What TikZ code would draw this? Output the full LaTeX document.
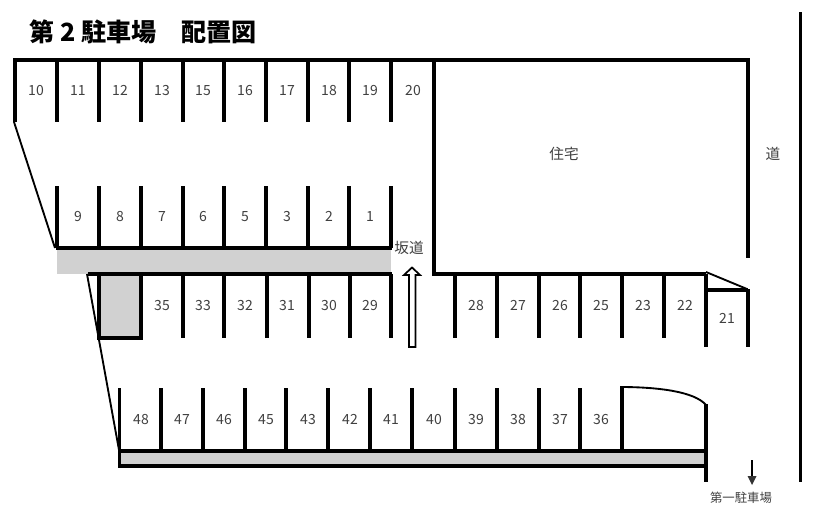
\documentclass[tikz,border=0pt]{standalone}
\usepackage{fontspec}
\setmainfont{Noto Sans CJK JP}
\definecolor{lab}{gray}{0.25}
\definecolor{pave}{gray}{0.82}
\tikzset{
  wall/.style={line width=2.3pt,line cap=butt},
  stall/.style={line width=2.3pt,line cap=butt},
  thinline/.style={line width=1.4pt},
  num/.style={font=\fontsize{10.5pt}{12pt}\selectfont,text=lab,inner sep=0pt,anchor=center,text height=8pt,text depth=0pt},
  cjk/.style={num,font=\fontsize{11pt}{13pt}\selectfont,text height=9pt,text depth=1pt},
}
\begin{document}
\begin{tikzpicture}[x=0.75pt,y=-0.75pt]
\useasboundingbox (0,0) rectangle (822,521);
\node[anchor=west,inner sep=0pt,font=\fontsize{18.8pt}{22pt}\selectfont\bfseries] (title) at (29.5,32) {第 2 駐車場　配置図};
% paved strips
\fill[pave] (57,249) rectangle (391,274);
\fill[pave] (99,274) rectangle (141,338);
\fill[pave] (119,451) rectangle (706,466);
% top row
\draw[wall] (15,122) -- (15,60) -- (748,60) -- (748,258);
\foreach \x in {57,99,141,183,224,266,308,349,391}{\draw[stall] (\x,60) -- (\x,122);}
\draw[wall] (434,60) -- (434,274) -- (706,274);
% second row
\foreach \x in {57,99,141,183,224,266,308,349,391}{\draw[stall] (\x,186) -- (\x,248);}
\draw[wall] (56,248) -- (392,248);
\draw[thinline] (14,122) -- (55,248);
% third row
\draw[wall] (88,274) -- (392,274);
\foreach \x in {183,224,267,309,350,391}{\draw[stall] (\x,274) -- (\x,338);}
\draw[wall] (99,274) -- (99,338) -- (141,338) -- (141,274);
\draw[thinline] (87,274) -- (119,450);
% fourth row right
\foreach \x in {455,497,539,580,622,664}{\draw[stall] (\x,274) -- (\x,338);}
\draw[wall] (706,274) -- (706,347);
\draw[wall] (706,290) -- (748,290);
\draw[wall] (748,289) -- (748,347);
\draw[thinline] (706,272) -- (747,289);
% bottom row
\foreach \x in {119.5,161,203,245,286,328,370,412,455,497,539,580,622}{\draw[stall] (\x,388) -- (\x,451);}
\draw[wall] (119,451) -- (706,451);
\draw[wall] (119,466) -- (706,466);
\draw[wall] (119.5,450) -- (119.5,467.5);
\draw[wall] (706,404) -- (706,482);
\draw[thinline] (620,387) .. controls (660,387) and (695,392) .. (706,405);
% road
\draw[wall] (800.5,12) -- (800.5,482);
% arrows
\draw[line width=1.3pt,fill=white,line join=miter] (409,347) -- (409,275) -- (404,275) -- (412,267.5) -- (420,275) -- (415.5,275) -- (415.5,347) -- cycle;
\coordinate (a1) at (752,460);
\coordinate (a2) at (752,485);
\draw[line width=1.4pt] (a1) -- (752,478);
\fill[black!80] (747.5,476) -- (756.5,476) -- (a2) -- cycle;
% numbers
\foreach \n/\x in {10/36,11/78,12/120,13/162,15/203,16/245,17/287,18/329,19/370,20/413}{\node[num] (s\n) at (\x,90) {\n};}
\foreach \n/\x in {9/78,8/120,7/162,6/203,5/245,3/287,2/329,1/370}{\node[num] (s\n) at (\x,216) {\n};}
\foreach \n/\x in {35/162,33/203,32/245,31/287,30/329,29/370,28/476,27/518,26/560,25/601,23/643,22/685}{\node[num] (s\n) at (\x,305) {\n};}
\node[num] (s21) at (727,318) {21};
\foreach \n/\x in {48/141,47/182,46/224,45/266,43/308,42/350,41/391,40/434,39/476,38/518,37/560,36/601}{\node[num] (s\n) at (\x,419) {\n};}
\node[cjk] (house) at (564,154) {住宅};
\node[cjk] (road) at (773,154) {道};
\node[cjk] (slope) at (409,248) {坂道};
\node[cjk,font=\fontsize{9.3pt}{11pt}\selectfont] (first) at (741,497) {第一駐車場};
\end{tikzpicture}
\end{document}
